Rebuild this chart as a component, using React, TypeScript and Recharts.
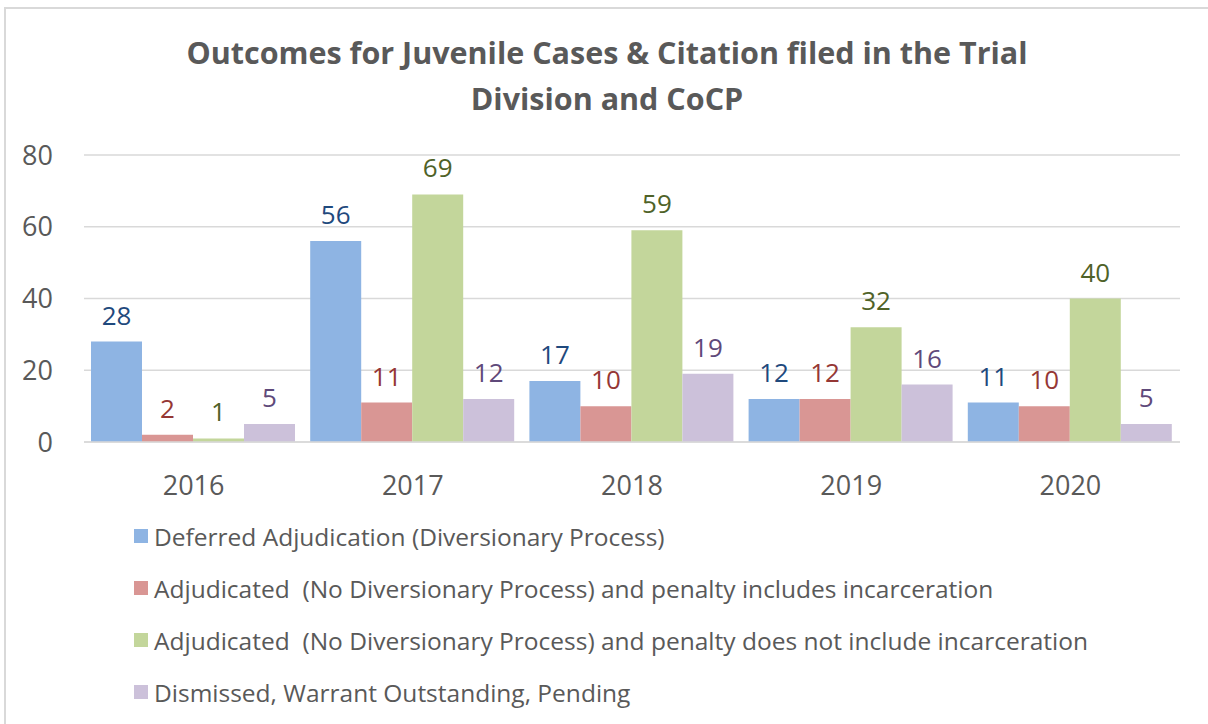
import React from "react";
import { BarChart, Bar, XAxis, YAxis, CartesianGrid, LabelList, Legend } from "recharts";

const years = ["2016", "2017", "2018", "2019", "2020"];
const deferred = [28, 56, 17, 12, 11];
const incarceration = [2, 11, 10, 12, 10];
const noIncarceration = [1, 69, 59, 32, 40];
const dismissed = [5, 12, 19, 16, 5];
const yTicks = [0, 20, 40, 60, 80];

const seriesNames = [
  "Deferred Adjudication (Diversionary Process)",
  "Adjudicated  (No Diversionary Process) and penalty includes incarceration",
  "Adjudicated  (No Diversionary Process) and penalty does not include incarceration",
  "Dismissed, Warrant Outstanding, Pending",
];
const seriesKeys = ["deferred", "incarceration", "noIncarceration", "dismissed"];
const fills = ["#8EB4E3", "#D99694", "#C3D69B", "#CCC1DA"];
const labelColors = ["#1F497D", "#953735", "#4F6228", "#5F497A"];

const data = years.map((y, i) => ({
  year: y,
  deferred: deferred[i],
  incarceration: incarceration[i],
  noIncarceration: noIncarceration[i],
  dismissed: dismissed[i],
}));

const FONT = "'Open Sans', 'Noto Sans', sans-serif";
const TEXT = "#595959";

const LegendContent = () => (
  <div style={{ fontFamily: FONT }}>
    {seriesNames.map((n, i) => (
      <div key={n} style={{ display: "flex", alignItems: "center", height: 52 }}>
        <div style={{ width: 14, height: 14, background: fills[i], marginRight: 6 }} />
        <span style={{ fontSize: 24.5, color: TEXT, whiteSpace: "pre" }}>{n}</span>
      </div>
    ))}
  </div>
);

export default function App() {
  return (
    <div style={{ position: "absolute", left: 0, top: 0, width: 1208, height: 724, background: "#fff", overflow: "hidden" }}>
      <div style={{ position: "absolute", left: 4, top: 7, width: 1210, height: 730, border: "2px solid #D9D9D9", boxSizing: "border-box" }} />
      <div
        style={{
          position: "absolute",
          left: 0,
          top: 29,
          width: 1214,
          textAlign: "center",
          fontFamily: FONT,
          fontWeight: 700,
          fontSize: 30.5,
          lineHeight: "46px",
          color: TEXT,
        }}
      >
        Outcomes for Juvenile Cases &amp; Citation filed in the Trial
        <br />
        Division and CoCP
      </div>
      <div style={{ position: "absolute", left: 0, top: 0 }}>
        <BarChart
          width={1208}
          height={724}
          data={data}
          margin={{ top: 155, right: 28, bottom: 252, left: 0 }}
          barCategoryGap={7}
          barGap={0}
        >
          <CartesianGrid vertical={false} stroke="#D9D9D9" strokeWidth={1.5} />
          <XAxis
            dataKey="year"
            height={30}
            axisLine={{ stroke: "#D9D9D9", strokeWidth: 1.5 }}
            tickLine={false}
            tickSize={0}
            tickMargin={34}
            tick={{ fill: TEXT, fontSize: 27, fontFamily: FONT }}
          />
          <YAxis
            width={84}
            domain={[0, 80]}
            ticks={yTicks}
            axisLine={false}
            tickLine={false}
            tickSize={0}
            tickMargin={31}
            tick={{ fill: TEXT, fontSize: 27, fontFamily: FONT }}
          />
          <Legend
            layout="vertical"
            align="center"
            verticalAlign="middle"
            content={<LegendContent />}
            wrapperStyle={{ position: "absolute", left: 134, top: 510, width: 1070, height: 210 }}
          />
          {seriesKeys.map((k, i) => (
            <Bar key={k} dataKey={k} name={seriesNames[i]} fill={fills[i]} isAnimationActive={false}>
              <LabelList
                dataKey={k}
                position="top"
                offset={17}
                fill={labelColors[i]}
                style={{ fontSize: 26, fontFamily: FONT }}
              />
            </Bar>
          ))}
        </BarChart>
      </div>
    </div>
  );
}
